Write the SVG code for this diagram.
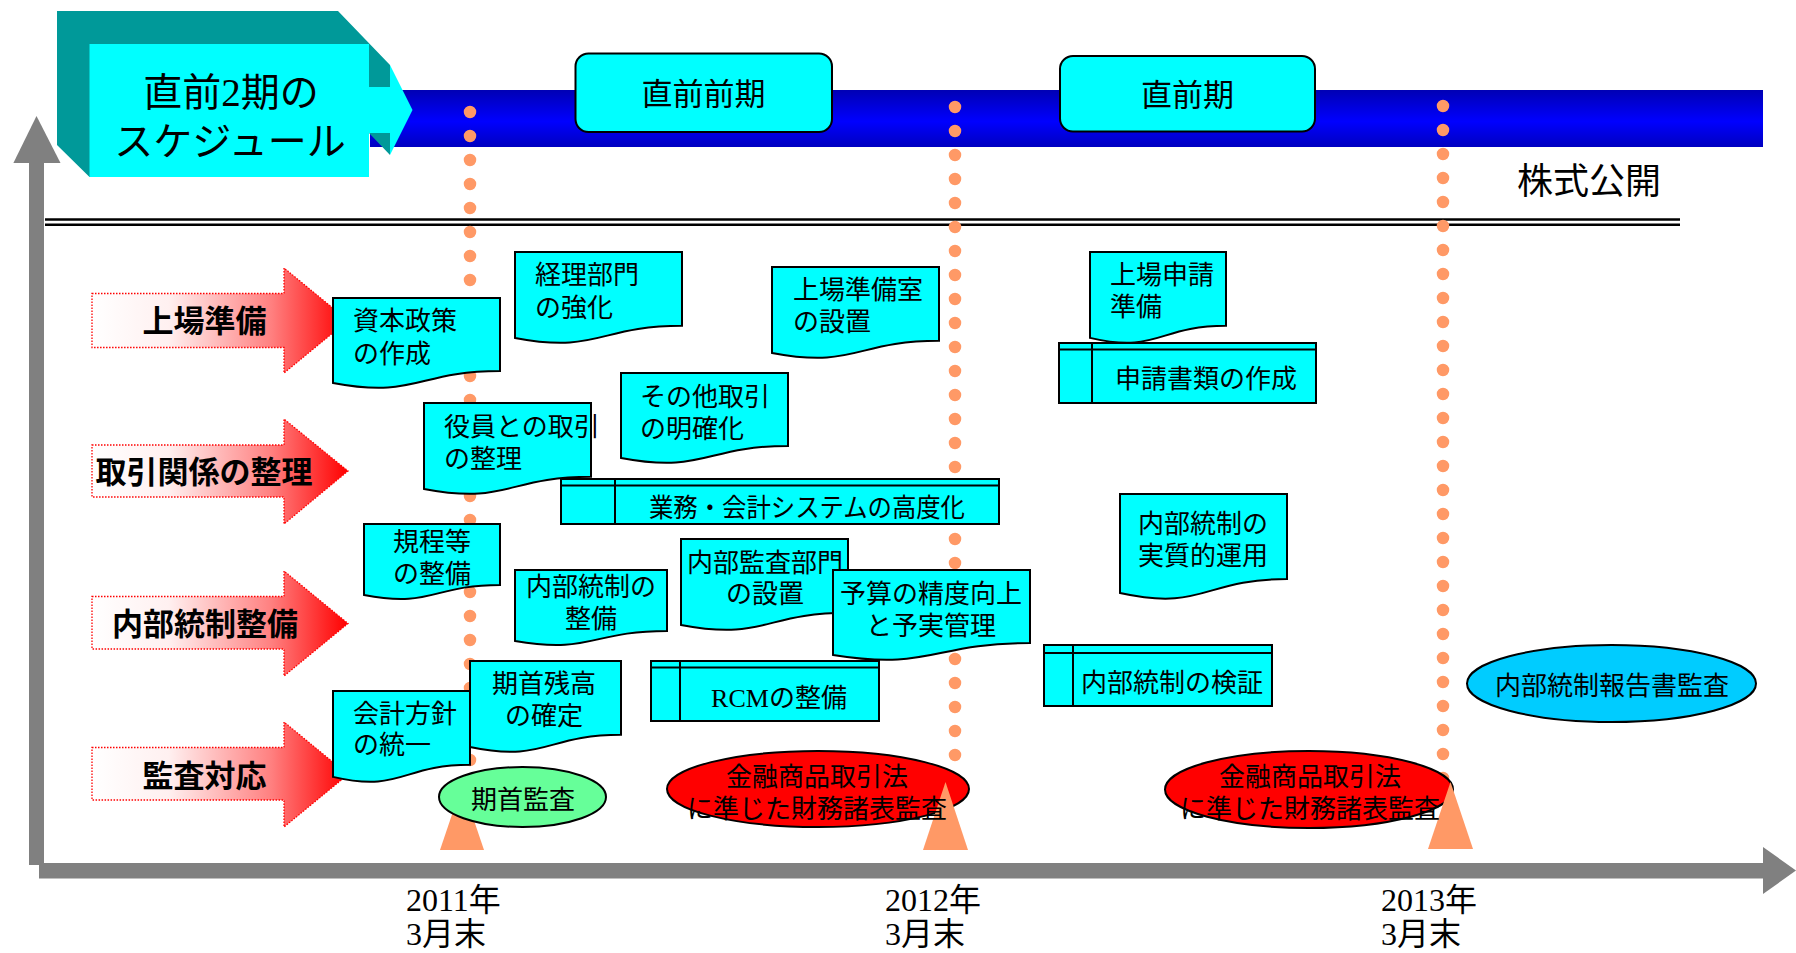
<svg xmlns="http://www.w3.org/2000/svg" width="1796" height="953" viewBox="0 0 1796 953">
<defs>
 <linearGradient id="barGrad" x1="0" y1="0" x2="0" y2="1">
  <stop offset="0" stop-color="#0000B4"/>
  <stop offset="0.55" stop-color="#0000FF"/>
  <stop offset="1" stop-color="#0000C0"/>
 </linearGradient>
 <linearGradient id="arrGrad" x1="0" y1="0" x2="1" y2="0">
  <stop offset="0" stop-color="#FFFFFF"/>
  <stop offset="0.3" stop-color="#FFF0F0"/>
  <stop offset="0.7" stop-color="#FF8080"/>
  <stop offset="1" stop-color="#FF0000"/>
 </linearGradient>
</defs>
<style>
 .doc{fill:#00FFFF;stroke:#000;stroke-width:2}
 .ln{stroke:#000;stroke-width:2;fill:none}
 .t{font-family:"Liberation Serif","Noto Sans CJK JP",serif;font-size:26px;fill:#000}
 .m{text-anchor:middle}
 .hd{font-family:"Liberation Serif","Noto Sans CJK JP",serif;font-size:39px;fill:#000;text-anchor:middle}
 .pt{font-family:"Liberation Serif","Noto Sans CJK JP",serif;font-size:31px;fill:#000;text-anchor:middle}
 .yr{font-family:"Liberation Serif","Noto Sans CJK JP",serif;font-size:32px;fill:#000}
 .lab{font-family:"Noto Sans CJK JP","Noto Sans CJK SC",sans-serif;font-size:31px;font-weight:bold;fill:#000;text-anchor:middle}
 .cat{fill:url(#arrGrad);stroke:#FF0000;stroke-width:1.3;stroke-dasharray:1.5 1.5}
 .dots{stroke:#FF9966;stroke-width:12.5;stroke-linecap:round;stroke-dasharray:0 24;fill:none}
 .axis{fill:#808080}
 .tri{fill:#FF9966}
 .rr{fill:#00FFFF;stroke:#000;stroke-width:2}
 .ell{stroke:#000;stroke-width:2}
</style>
<rect width="1796" height="953" fill="#FFFFFF"/>

<!-- blue period bar -->
<rect id="period-bar" x="370" y="90" width="1393" height="57" fill="url(#barGrad)"/>

<!-- header 3D arrow -->
<g id="header">
 <polygon points="57,11 338,11 390,65 390,155 369,133 369,177 89.5,177 57,145" fill="#009999"/>
 <rect x="89.5" y="44" width="279.5" height="133" fill="#00FFFF"/>
 <rect x="369" y="87" width="21" height="46" fill="#00FFFF"/>
 <polygon points="390,65 412.5,110 390,155" fill="#00FFFF"/>
 <text class="hd" x="231" y="106">直前2期の</text>
 <text class="hd" x="230" y="155">スケジュール</text>
</g>

<g id="period-prev">
 <rect class="rr" x="575.5" y="53.5" width="256.5" height="78.5" rx="13"/>
 <text class="pt" x="703.5" y="105">直前前期</text>
</g>
<g id="period-last">
 <rect class="rr" x="1060" y="56" width="255" height="75.5" rx="13"/>
 <text class="pt" x="1187.5" y="106">直前期</text>
</g>

<g id="ipo-label">
 <text x="1517" y="194" style="font-family:'Noto Sans CJK JP',sans-serif;font-size:36px;fill:#000">株式公開</text>
</g>

<!-- double separator line -->
<g id="separator">
 <line x1="45" y1="219.5" x2="1680" y2="219.5" stroke="#000" stroke-width="2.5"/>
 <line x1="45" y1="224.8" x2="1680" y2="224.8" stroke="#000" stroke-width="2.5"/>
</g>

<!-- axes -->
<g id="axes">
 <rect class="axis" x="29" y="162" width="15" height="703"/>
 <polygon class="axis" points="13.4,163 36.5,116 60.5,163"/>
 <rect class="axis" x="39" y="863" width="1725" height="15.5"/>
 <polygon class="axis" points="1763,847 1796,870.5 1763,894"/>
</g>

<!-- dotted milestone lines -->
<g id="connectors">
 <line class="dots" x1="470" y1="112" x2="470" y2="784.5"/>
 <line class="dots" x1="955" y1="107" x2="955" y2="779.5"/>
 <line class="dots" x1="1443" y1="106" x2="1443" y2="778.5"/>
</g>

<!-- category arrows -->
<g id="cat-listing">
 <path class="cat" d="M92,293.5 H284 V268 L348,320.5 L284,373 V347.5 H92 Z"/>
 <text class="lab" x="204.5" y="332">上場準備</text>
</g>
<g id="cat-transactions">
 <path class="cat" d="M92,445 H284 V419 L348,471 L284,524 V497 H92 Z"/>
 <text class="lab" x="204" y="483">取引関係の整理</text>
</g>
<g id="cat-control">
 <path class="cat" d="M92,596.5 H284 V571 L348,623.5 L284,676 V649 H92 Z"/>
 <text class="lab" x="205" y="635">内部統制整備</text>
</g>
<g id="cat-audit">
 <path class="cat" d="M92,747.5 H284 V722 L348,774.5 L284,827 V800 H92 Z"/>
 <text class="lab" x="204.5" y="787">監査対応</text>
</g>

<!-- task nodes -->
<g id="n-capital">
 <path class="doc" d="M333,298 H500 V371 C416.5,371 416.5,398.8 333,383 Z"/>
 <text class="t" x="353" y="330">資本政策</text>
 <text class="t" x="353" y="363">の作成</text>
</g>
<g id="n-accounting-dept">
 <path class="doc" d="M515,252 H682 V325.8 C598.5,325.8 598.5,353.9 515,337.9 Z"/>
 <text class="t" x="535" y="284">経理部門</text>
 <text class="t" x="535" y="317">の強化</text>
</g>
<g id="n-listing-office">
 <path class="doc" d="M772,267 H939 V340.8 C855.5,340.8 855.5,368.9 772,352.9 Z"/>
 <text class="t" x="793" y="299">上場準備室</text>
 <text class="t" x="793" y="331">の設置</text>
</g>
<g id="n-listing-application">
 <path class="doc" d="M1090,252 H1226 V325.8 C1158,325.8 1158,353.9 1090,337.9 Z"/>
 <text class="t" x="1110" y="284">上場申請</text>
 <text class="t" x="1110" y="316">準備</text>
</g>
<g id="n-application-docs">
 <rect class="doc" x="1059" y="343" width="257" height="60"/>
 <line class="ln" x1="1059" y1="349.5" x2="1316" y2="349.5"/>
 <line class="ln" x1="1092" y1="343" x2="1092" y2="403"/>
 <text class="t" x="1115" y="388">申請書類の作成</text>
</g>
<g id="n-officer-transactions">
 <path class="doc" d="M424,403 H591 V476.8 C507.5,476.8 507.5,504.9 424,488.9 Z"/>
 <text class="t" x="444" y="436">役員との取引</text>
 <text class="t" x="444" y="468">の整理</text>
</g>
<g id="n-other-transactions">
 <path class="doc" d="M621,373 H788 V446 C704.5,446 704.5,473.8 621,458 Z"/>
 <text class="t" x="640" y="406">その他取引</text>
 <text class="t" x="640" y="438">の明確化</text>
</g>
<g id="n-system">
 <rect class="doc" x="561" y="479" width="438" height="45"/>
 <line class="ln" x1="561" y1="485.5" x2="999" y2="485.5"/>
 <line class="ln" x1="615" y1="479" x2="615" y2="524"/>
 <text class="t m" x="807" y="517" textLength="316" lengthAdjust="spacingAndGlyphs">業務・会計システムの高度化</text>
</g>
<g id="n-rules">
 <path class="doc" d="M364,524 H500 V585 C432,585 432,608.2 364,595 Z"/>
 <text class="t m" x="432" y="551">規程等</text>
 <text class="t m" x="432" y="583">の整備</text>
</g>
<g id="n-ic-setup">
 <path class="doc" d="M515,570 H667 V631 C591,631 591,654.2 515,641 Z"/>
 <text class="t m" x="591" y="596">内部統制の</text>
 <text class="t m" x="591" y="628">整備</text>
</g>
<g id="n-internal-audit">
 <path class="doc" d="M681,539 H848 V612.8 C764.5,612.8 764.5,640.9 681,624.9 Z"/>
 <text class="t m" x="765" y="572">内部監査部門</text>
 <text class="t m" x="765" y="603">の設置</text>
</g>
<g id="n-budget">
 <path class="doc" d="M833,570 H1030 V643 C931.5,643 931.5,670.8 833,655 Z"/>
 <text class="t m" x="931" y="603">予算の精度向上</text>
 <text class="t m" x="931" y="635">と予実管理</text>
</g>
<g id="n-ic-operation">
 <path class="doc" d="M1120,494 H1287 V579 C1203.5,579 1203.5,611.4 1120,593 Z"/>
 <text class="t m" x="1203" y="533">内部統制の</text>
 <text class="t m" x="1203" y="565">実質的運用</text>
</g>
<g id="n-rcm">
 <rect class="doc" x="651" y="661" width="228" height="60"/>
 <line class="ln" x1="651" y1="667.5" x2="879" y2="667.5"/>
 <line class="ln" x1="680" y1="661" x2="680" y2="721"/>
 <text class="t m" x="779" y="707">RCMの整備</text>
</g>
<g id="n-ic-verification">
 <rect class="doc" x="1044" y="645" width="228" height="61"/>
 <line class="ln" x1="1044" y1="653" x2="1272" y2="653"/>
 <line class="ln" x1="1073" y1="645" x2="1073" y2="706"/>
 <text class="t m" x="1172" y="692">内部統制の検証</text>
</g>
<g id="n-opening-balance">
 <path class="doc" d="M470,661 H621 V734.8 C545.5,734.8 545.5,762.9 470,746.9 Z"/>
 <text class="t m" x="544" y="693">期首残高</text>
 <text class="t m" x="544" y="725">の確定</text>
</g>
<g id="n-accounting-policy">
 <path class="doc" d="M333,691 H470 V764.8 C401.5,764.8 401.5,792.9 333,776.9 Z"/>
 <text class="t" x="353" y="723">会計方針</text>
 <text class="t" x="353" y="754">の統一</text>
</g>

<!-- milestones / audits -->
<g id="m-2011">
 <polygon class="tri" points="462,785 440,850 484,850"/>
 <ellipse class="ell" cx="522.5" cy="797" rx="83.5" ry="30" fill="#66FF99"/>
 <text class="t m" x="523" y="809">期首監査</text>
</g>
<g id="m-2012">
 <ellipse class="ell" cx="818" cy="789" rx="151" ry="38" fill="#FF0000"/>
 <polygon class="tri" points="945.5,782 923,850 968,850"/>
 <text class="t m" x="817" y="786">金融商品取引法</text>
 <text class="t m" x="817" y="818">に準じた財務諸表監査</text>
</g>
<g id="m-2013">
 <ellipse class="ell" cx="1309" cy="789.5" rx="144" ry="38.5" fill="#FF0000"/>
 <polygon class="tri" points="1450.5,782 1428,849 1473,849"/>
 <text class="t m" x="1310" y="786">金融商品取引法</text>
 <text class="t m" x="1310" y="818">に準じた財務諸表監査</text>
</g>
<g id="n-ic-report-audit">
 <ellipse class="ell" cx="1611.5" cy="683.5" rx="144.5" ry="38.5" fill="#00CCFF"/>
 <text class="t m" x="1612" y="695">内部統制報告書監査</text>
</g>

<!-- year labels -->
<g id="years">
 <text class="yr" x="406" y="911">2011年</text>
 <text class="yr" x="406" y="945">3月末</text>
 <text class="yr" x="885" y="911">2012年</text>
 <text class="yr" x="885" y="945">3月末</text>
 <text class="yr" x="1381" y="911">2013年</text>
 <text class="yr" x="1381" y="945">3月末</text>
</g>
</svg>
